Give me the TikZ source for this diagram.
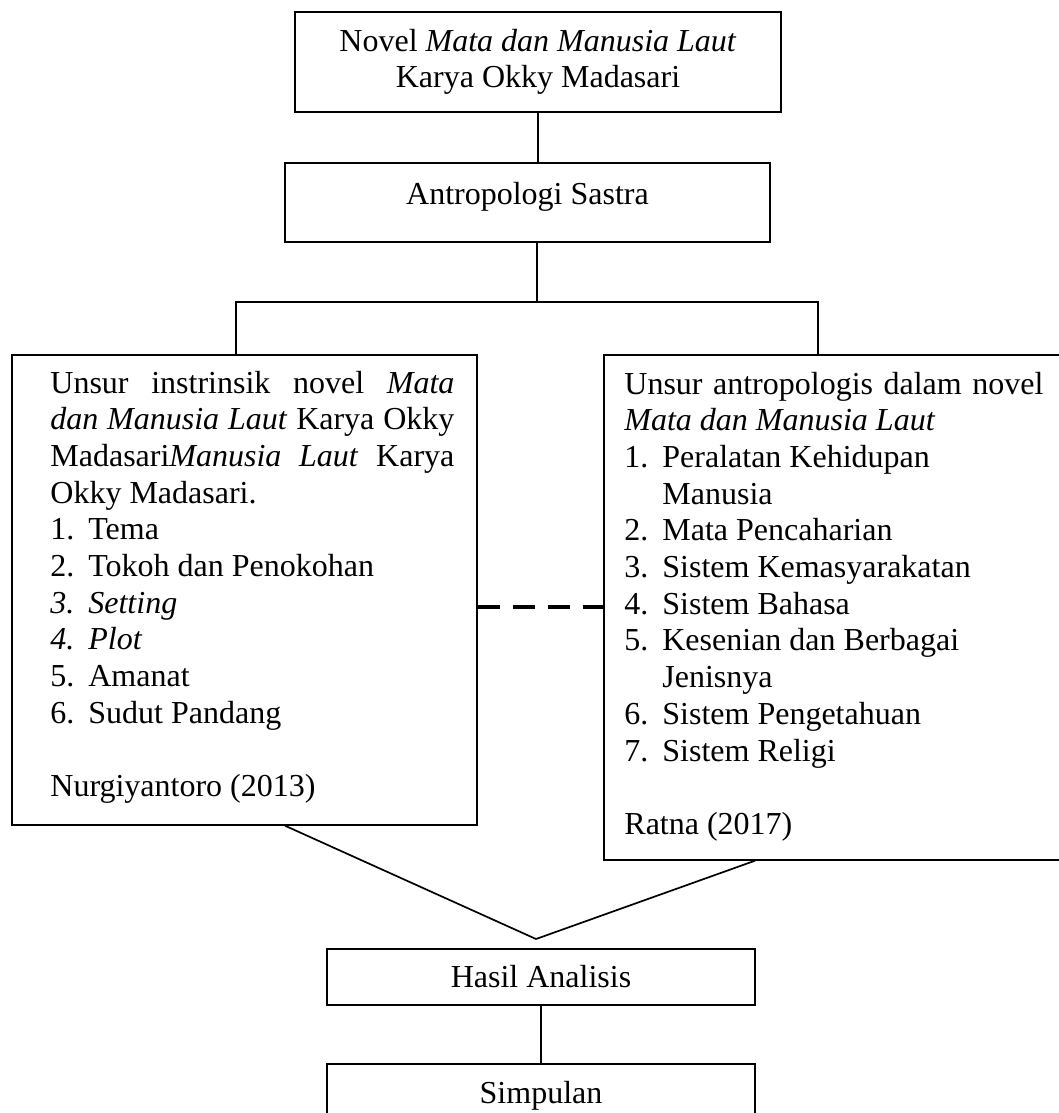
\documentclass[tikz,border=0pt]{standalone}
\usepackage{fontspec}
\setmainfont{Liberation Serif}
\newcommand{\numitem}[2]{\par\hangindent=19pt\hangafter=1\noindent\makebox[19pt][l]{#1}#2}
\tikzset{flowbox/.style = {draw, line width=0.85pt, minimum width=214pt, inner sep=0pt},
         panel/.style = {draw, line width=0.85pt, minimum width=232.5pt, anchor=north west},
         paneltext/.style = {anchor=base west, align=justify, inner sep=0pt},
         link/.style = {line width=0.85pt},
         dashlink/.style = {line width=1.6pt, dash pattern=on 11pt off 6.5pt}}

\begin{document}
\begin{tikzpicture}[x=0.5pt, y=-0.5pt, font=\fontsize{16}{18.35}\selectfont]
    \useasboundingbox (0, 0) rectangle (1059, 1113);
    \node [flowbox, minimum width=243pt, minimum height=50pt, align=center] (novel) at (538, 62) {Novel \textit{Mata dan Manusia Laut}\\Karya Okky Madasari};
    \node [flowbox, minimum width=242.5pt, minimum height=39.5pt, text height=11pt, text depth=9.5pt] (antro) at (527.5, 202.5) {Antropologi Sastra};
    \node [panel, minimum height=235pt] (intr) at (11, 354) {};
    \node [panel, minimum height=252.5pt] (antr) at (603, 354) {};
    \node [paneltext, text width=202pt] (intrtext) at (50, 393) {Unsur instrinsik novel \textit{Mata}\linebreak \textit{dan Manusia Laut} Karya Okky\linebreak Madasari\textit{Manusia Laut} Karya\linebreak Okky Madasari.
        \numitem{1.}{Tema}
        \numitem{2.}{Tokoh dan Penokohan}
        \numitem{\textit{3.}}{\textit{Setting}}
        \numitem{\textit{4.}}{\textit{Plot}}
        \numitem{5.}{Amanat}
        \numitem{6.}{Sudut Pandang}
        \par\mbox{}\par Nurgiyantoro (2013)};
    \node [paneltext, text width=209.5pt] (antrtext) at (624, 394) {Unsur antropologis dalam novel\linebreak \textit{Mata dan Manusia Laut}
        \numitem{1.}{Peralatan Kehidupan\newline Manusia}
        \numitem{2.}{Mata Pencaharian}
        \numitem{3.}{Sistem Kemasyarakatan}
        \numitem{4.}{Sistem Bahasa}
        \numitem{5.}{Kesenian dan Berbagai\newline Jenisnya}
        \numitem{6.}{Sistem Pengetahuan}
        \numitem{7.}{Sistem Religi}
        \par\mbox{}\par Ratna (2017)};
    \node [flowbox, minimum height=28pt] (hasil) at (541, 977) {Hasil Analisis};
    \node [flowbox, minimum height=31.5pt, anchor=north] (simp) at (541, 1063) {Simpulan};
    \coordinate (split) at (537, 302);
    \coordinate (brl) at (236, 302);
    \coordinate (brr) at (818, 302);
    \coordinate (meet) at (536, 939);
    \coordinate (dashrow) at (540, 607);
    \draw [link] (novel.south) -- (novel.south |- antro.north);
    \draw [link] (split |- antro.south) -- (split);
    \draw [link] (brl |- intr.north) -- (brl) -- (brr) -- (brr |- antr.north);
    \draw [dashlink] (intr.east |- dashrow) -- (antr.west |- dashrow);
    \draw [link] (intr.south west) ++(274, 0) -- (meet);
    \draw [link] (antr.south west) ++(152, 0) -- (meet);
    \draw [link] (hasil) -- (simp);
\end{tikzpicture}
\end{document}
